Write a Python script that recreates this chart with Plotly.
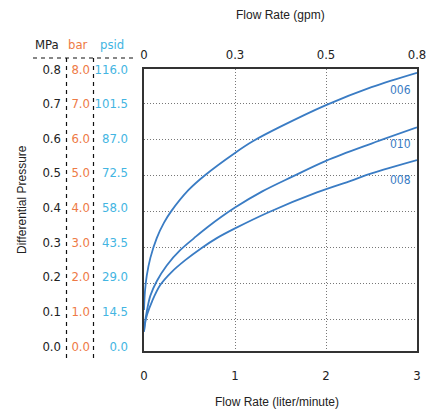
import plotly.graph_objects as go

# ---- data (flow rate in liter/minute, differential pressure in MPa) ----
x_006 = [0, 0.01, 0.03, 0.07, 0.14, 0.22, 0.30, 0.49, 0.67, 1.0, 1.2, 1.5, 2.0, 2.5, 3.0]
y_006 = [0.125, 0.175, 0.22, 0.27, 0.325, 0.368, 0.40, 0.459, 0.50, 0.562, 0.595, 0.635, 0.695, 0.745, 0.785]

x_010 = [0, 0.01, 0.03, 0.07, 0.14, 0.25, 0.40, 0.55, 0.70, 1.0, 1.3, 1.63, 2.0, 2.5, 3.0]
y_010 = [0.065, 0.09, 0.12, 0.165, 0.205, 0.249, 0.292, 0.325, 0.356, 0.41, 0.455, 0.496, 0.54, 0.588, 0.633]

x_008 = [0, 0.015, 0.035, 0.09, 0.18, 0.30, 0.45, 0.63, 0.8, 1.0, 1.37, 1.9, 2.28, 2.5, 3.0]
y_008 = [0.065, 0.092, 0.113, 0.15, 0.195, 0.23, 0.263, 0.297, 0.325, 0.352, 0.397, 0.452, 0.485, 0.505, 0.542]

series_names = ["006", "010", "008"]

x_ticks = [0, 1, 2, 3]
x_top_labels = ["0", "0.3", "0.5", "0.8"]
y_grid = [0.1, 0.2, 0.3, 0.4, 0.5, 0.6, 0.7]

p_ticks = [0.0, 0.1, 0.2, 0.3, 0.4, 0.5, 0.6, 0.7, 0.8]
mpa_labels = ["0.0", "0.1", "0.2", "0.3", "0.4", "0.5", "0.6", "0.7", "0.8"]
bar_labels = ["0.0", "1.0", "2.0", "3.0", "4.0", "5.0", "6.0", "7.0", "8.0"]
psid_labels = ["0.0", "14.5", "29.0", "43.5", "58.0", "72.5", "87.0", "101.5", "116.0"]

# ---- styles ----
BLUE = "#3a7cc4"
ORANGE = "#ee7a45"
LBLUE = "#43b5e2"
DARK = "#222222"
GRID = "#777777"
NUMFONT = "DejaVu Sans Condensed, Liberation Sans Narrow, Roboto Condensed, Roboto, sans-serif"
TXTFONT = "Liberation Sans, Arial, sans-serif"

W, H = 440, 414
L, R, T, B = 144, 417, 69, 351

fig = go.Figure()
for xs, ys, nm in [(x_006, y_006, "006"), (x_010, y_010, "010"), (x_008, y_008, "008")]:
    fig.add_trace(go.Scatter(x=xs, y=ys, mode="lines", name=nm,
                             line=dict(color=BLUE, width=1.8, shape="spline", smoothing=1.0),
                             showlegend=False, hoverinfo="skip"))

# invisible traces so the extra axes are drawn
fig.add_trace(go.Scatter(x=[0], y=[0.1], xaxis="x2", yaxis="y", mode="markers",
                         marker=dict(opacity=0), showlegend=False, hoverinfo="skip"))
for ax in ["y2", "y3", "y4"]:
    fig.add_trace(go.Scatter(x=[0], y=[0], xaxis="x", yaxis=ax, mode="markers",
                             marker=dict(opacity=0), showlegend=False, hoverinfo="skip"))

xdom = [L / W, R / W]
ydom = [1 - B / H, 1 - T / H]

# label axis range: 0.0 at 346px, 0.8 at 69px
px_per = (346 - 69) / 0.8
lab_range = [-(B - 346) / px_per, 0.8 + (69 - T) / px_per]
# grid axis range: 0.1 at 319px, 0.7 at 103.3px
gp = (319 - 103.3) / 0.6
grid_range = [0.1 - (B - 319) / gp, 0.7 + (103.3 - T) / gp]

def label_axis(pos, labels, color):
    return dict(overlaying="y", anchor="free", position=pos, side="left",
                range=lab_range, domain=ydom, tickvals=p_ticks, ticktext=labels,
                tickfont=dict(family=NUMFONT, size=13, color=color),
                showgrid=False, zeroline=False, showline=False, ticks="",
                automargin=False, fixedrange=True)

fig.update_layout(
    width=W, height=H,
    margin=dict(l=0, r=0, t=0, b=0, autoexpand=False),
    plot_bgcolor="white", paper_bgcolor="white",
    xaxis=dict(domain=xdom, range=[0, 3], tickvals=x_ticks, anchor="y",
               showgrid=True, gridcolor=GRID, griddash="1px,2px", gridwidth=1,
               showline=True, mirror=True, linecolor="#333333", linewidth=2,
               zeroline=False, ticks="", ticklabelstandoff=11, automargin=False,
               tickfont=dict(family=NUMFONT, size=13, color=DARK)),
    xaxis2=dict(domain=xdom, range=[0, 3], tickvals=x_ticks, ticktext=x_top_labels,
                overlaying="x", side="top", anchor="y", showgrid=False, zeroline=False,
                showline=False, ticks="", ticklabelstandoff=6, automargin=False,
                tickfont=dict(family=NUMFONT, size=13, color=DARK)),
    yaxis=dict(domain=ydom, range=grid_range, tickvals=y_grid, showticklabels=False,
               showgrid=True, gridcolor=GRID, griddash="1px,2px", gridwidth=1,
               showline=True, mirror=True, linecolor="#333333", linewidth=2,
               zeroline=False, ticks="", automargin=False),
    yaxis2=label_axis(61 / W, mpa_labels, DARK),
    yaxis3=label_axis(90 / W, bar_labels, ORANGE),
    yaxis4=label_axis(128 / W, psid_labels, LBLUE),
)

def txt(xpx, ypx, text, font, angle=0):
    return dict(x=xpx / W, y=1 - ypx / H, xref="paper", yref="paper", text=text,
                showarrow=False, xanchor="center", yanchor="middle", textangle=angle, font=font)

ann = []
for nm, ypx in zip(series_names, [90, 144, 180]):
    ann.append(txt(400, ypx, nm, dict(family=NUMFONT, size=12, color=BLUE)))
for t, xpx, col in [("MPa", 47, DARK), ("bar", 78, ORANGE), ("psid", 112, LBLUE)]:
    ann.append(txt(xpx, 44, t, dict(family=NUMFONT, size=13, color=col)))
ann.append(txt(280, 15, "Flow Rate (gpm)", dict(family=TXTFONT, size=12, color=DARK)))
ann.append(txt(277, 402, "Flow Rate (liter/minute)", dict(family=TXTFONT, size=12, color=DARK)))
ann.append(txt(22, 200, "Differential Pressure", dict(family=TXTFONT, size=12, color=DARK), -90))
fig.update_layout(annotations=ann)

dash = dict(color="#111111", width=1.2, dash="4px,4px")
shapes = [
    dict(type="line", xref="paper", yref="paper", x0=33 / W, x1=133 / W, y0=1 - 58 / H, y1=1 - 58 / H, line=dash),
    dict(type="line", xref="paper", yref="paper", x0=66.5 / W, x1=66.5 / W, y0=1 - 58 / H, y1=1 - 358 / H, line=dash),
    dict(type="line", xref="paper", yref="paper", x0=93.5 / W, x1=93.5 / W, y0=1 - 58 / H, y1=1 - 358 / H, line=dash),
]
fig.update_layout(shapes=shapes)

fig.write_html("out.html", config={"displayModeBar": False},
               post_script="document.body.style.margin='0';document.body.style.padding='0';")
